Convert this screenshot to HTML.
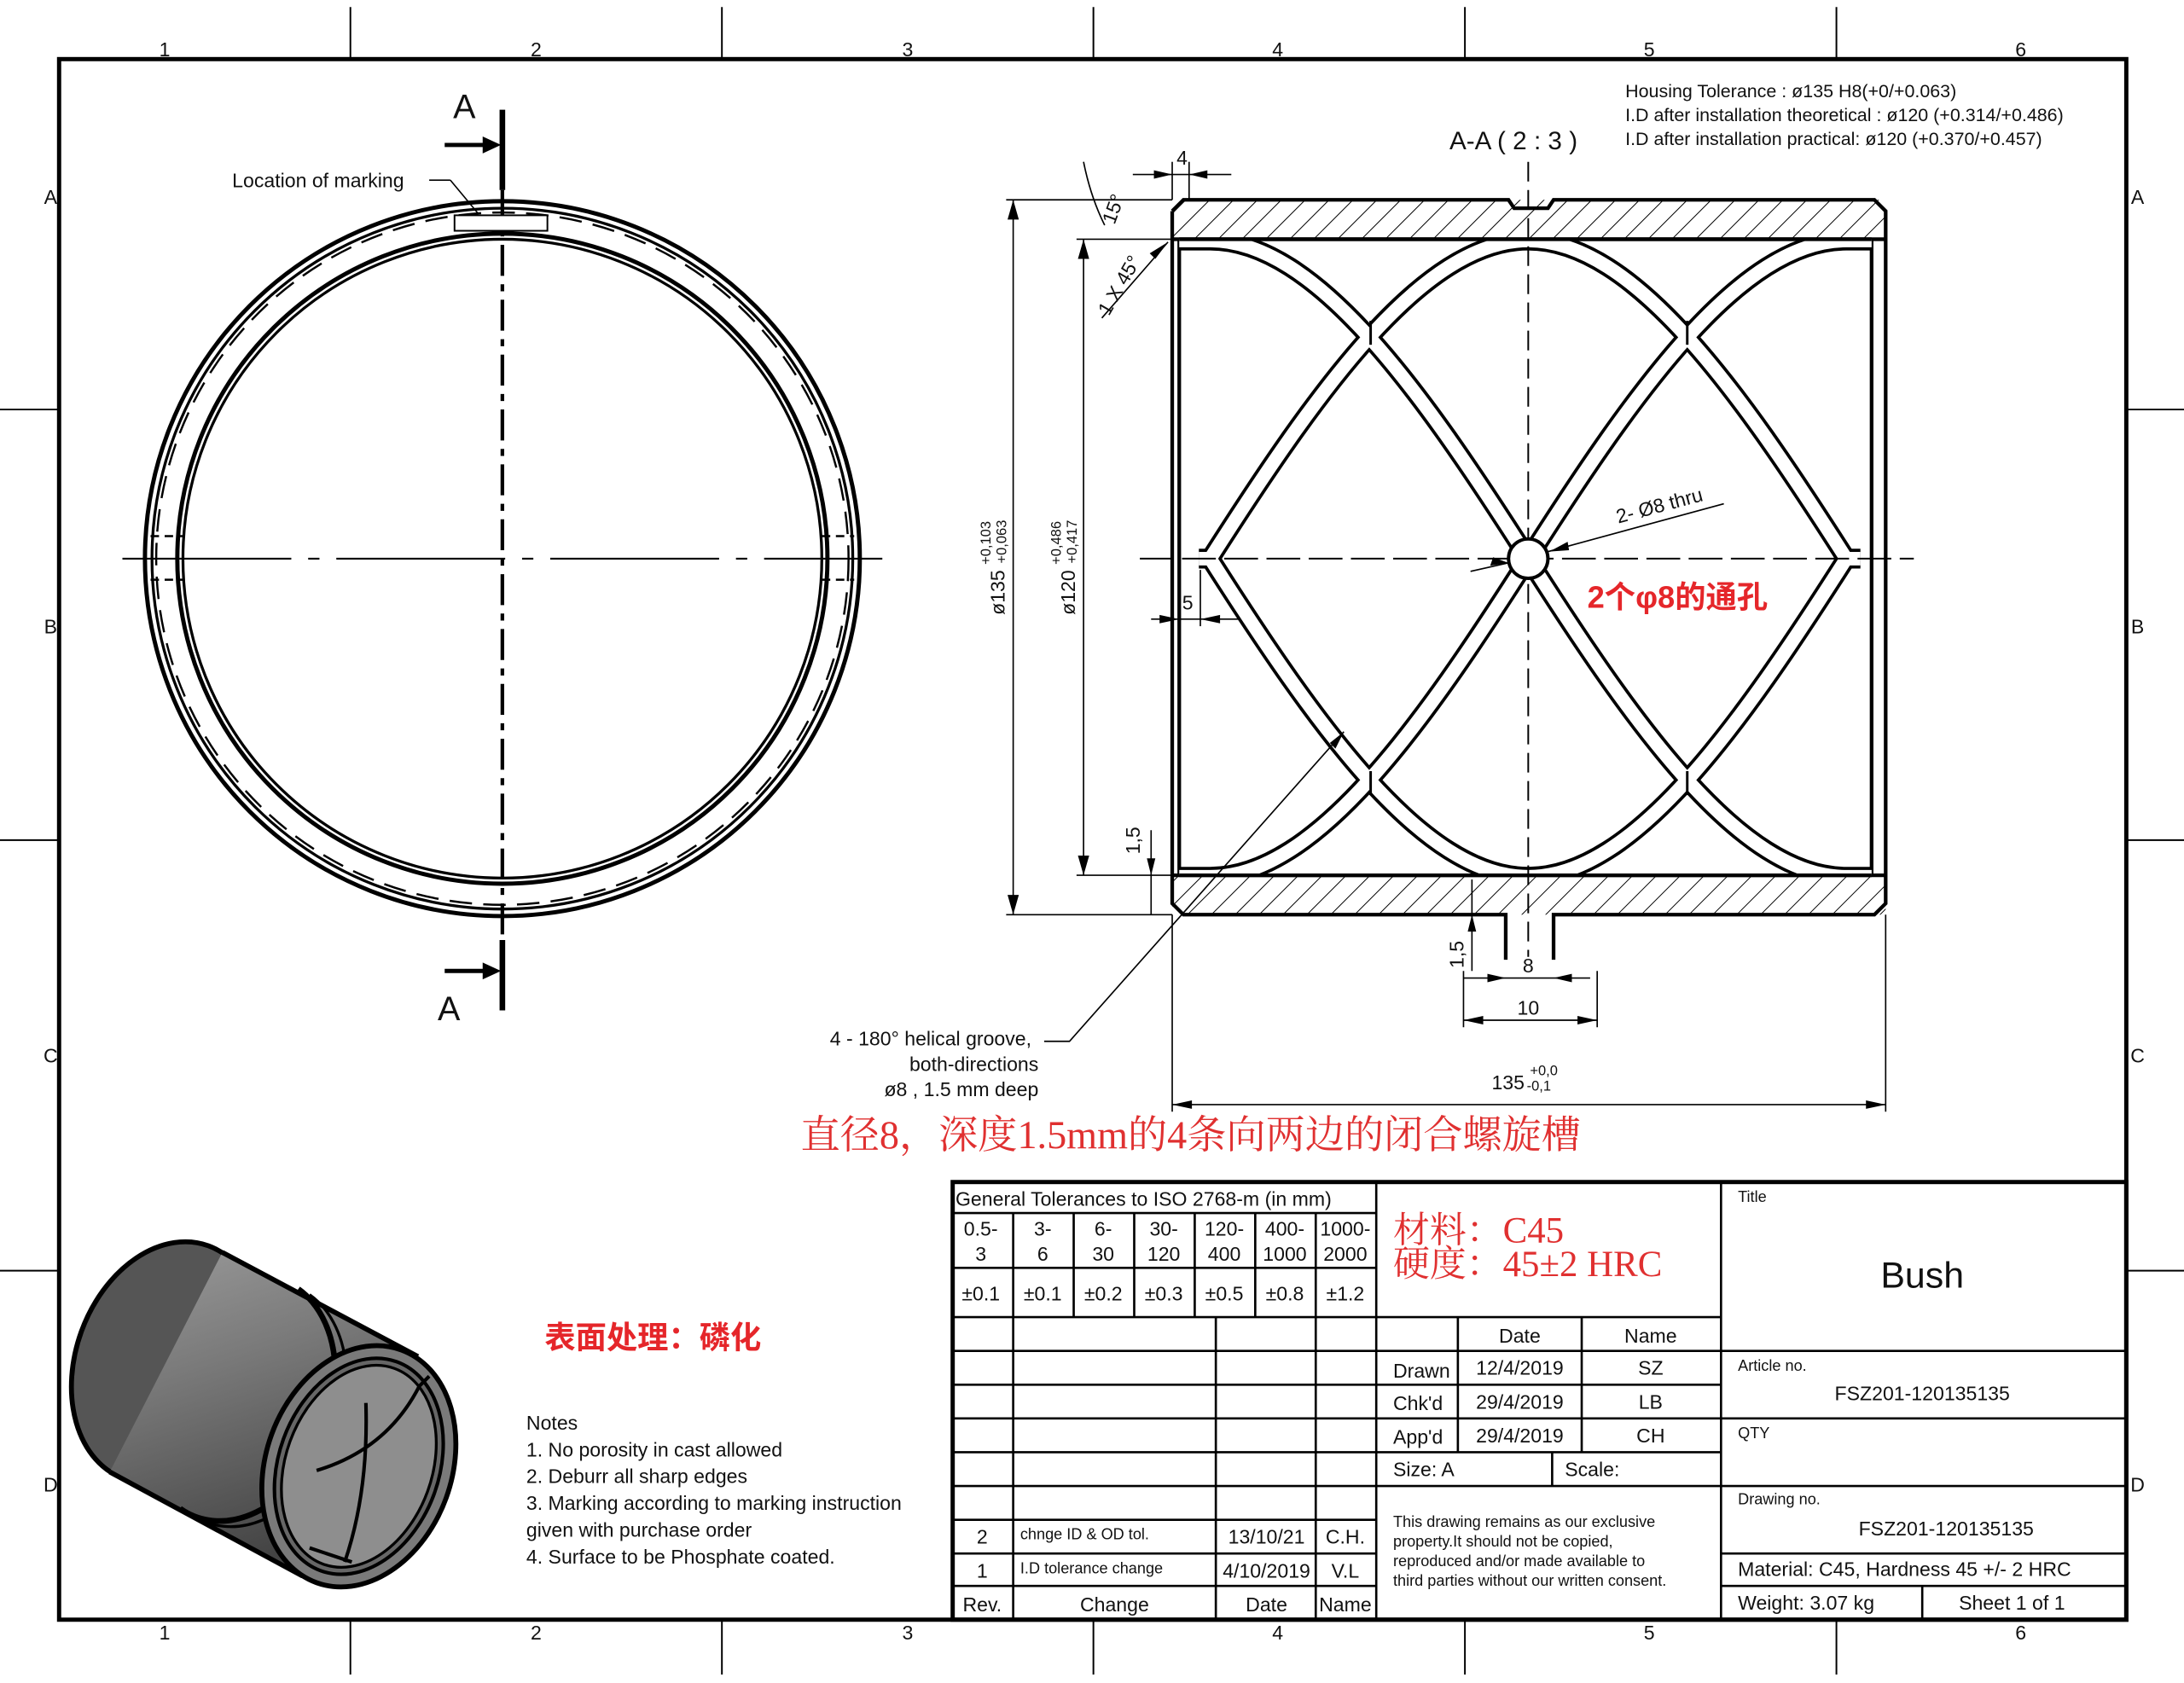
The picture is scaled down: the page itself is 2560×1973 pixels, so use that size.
<!DOCTYPE html>
<html><head><meta charset="utf-8"><style>
html,body{margin:0;padding:0;background:#fff}
svg{display:block}
text{font-family:"Liberation Sans","Noto Sans CJK SC",sans-serif;fill:#111}
.s{font-family:"Liberation Serif","Noto Serif CJK SC",serif;fill:#e03030}
.r{fill:#e5262a}
</style></head><body>
<svg width="2560" height="1973" viewBox="0 0 1552 1196" preserveAspectRatio="none" xmlns="http://www.w3.org/2000/svg">
<defs>
<pattern id="h" width="12" height="12" patternUnits="userSpaceOnUse" patternTransform="rotate(45)"><line x1="0" y1="0" x2="0" y2="12" stroke="#000" stroke-width="1.2"/></pattern>
<clipPath id="bore"><rect x="838" y="170" width="492" height="452"/></clipPath>
<linearGradient id="g" x1="0" y1="0" x2="0.3" y2="1"><stop offset="0" stop-color="#9a9a9a"/><stop offset="0.4" stop-color="#7a7a7a"/><stop offset="1" stop-color="#444"/></linearGradient>
</defs>
<rect width="1552" height="1196" fill="#fff"/>
<rect x="42" y="42" width="1469" height="1109" fill="none" stroke="#000" stroke-width="3"/>
<g stroke="#000" stroke-width="1.2">
<line x1="249" y1="5" x2="249" y2="42"/><line x1="513" y1="5" x2="513" y2="42"/><line x1="777" y1="5" x2="777" y2="42"/><line x1="1041" y1="5" x2="1041" y2="42"/><line x1="1305" y1="5" x2="1305" y2="42"/>
<line x1="249" y1="1151" x2="249" y2="1190"/><line x1="513" y1="1151" x2="513" y2="1190"/><line x1="777" y1="1151" x2="777" y2="1190"/><line x1="1041" y1="1151" x2="1041" y2="1190"/><line x1="1305" y1="1151" x2="1305" y2="1190"/>
<line x1="0" y1="291" x2="42" y2="291"/><line x1="0" y1="597" x2="42" y2="597"/><line x1="0" y1="903" x2="42" y2="903"/>
<line x1="1511" y1="291" x2="1552" y2="291"/><line x1="1511" y1="597" x2="1552" y2="597"/><line x1="1511" y1="903" x2="1552" y2="903"/>
</g>
<g font-size="14" text-anchor="middle">
<text x="117" y="40">1</text><text x="381" y="40">2</text><text x="645" y="40">3</text><text x="908" y="40">4</text><text x="1172" y="40">5</text><text x="1436" y="40">6</text>
<text x="117" y="1165">1</text><text x="381" y="1165">2</text><text x="645" y="1165">3</text><text x="908" y="1165">4</text><text x="1172" y="1165">5</text><text x="1436" y="1165">6</text>
<text x="36" y="145">A</text><text x="36" y="450">B</text><text x="36" y="755">C</text><text x="36" y="1060">D</text>
<text x="1519" y="145">A</text><text x="1519" y="450">B</text><text x="1519" y="755">C</text><text x="1519" y="1060">D</text>
</g>
<g fill="none" stroke="#000">
<circle cx="357" cy="397" r="254" stroke-width="3"/>
<circle cx="357" cy="397" r="249" stroke-width="2"/>
<circle cx="357" cy="397" r="246" stroke-width="1.5" stroke-dasharray="16,8"/>
<circle cx="357" cy="397" r="231" stroke-width="3"/>
<circle cx="357" cy="397" r="227" stroke-width="2"/>
<line x1="87" y1="397" x2="627" y2="397" stroke-width="1.3" stroke-dasharray="120,12,8,12"/>
<line x1="357" y1="135" x2="357" y2="668" stroke-width="2.6" stroke-dasharray="22,6,5,6"/>
<line x1="357" y1="78" x2="357" y2="135" stroke-width="4"/>
<line x1="357" y1="668" x2="357" y2="718" stroke-width="4"/>
<path d="M107 381H130M107 412H130M584 381H607M584 412H607" stroke-width="1.5" stroke-dasharray="6,4"/>
<rect x="323" y="153" width="66" height="11" stroke-width="1.2" fill="#fff"/>
<line x1="305" y1="128" x2="320" y2="128" stroke-width="1"/><line x1="320" y1="128" x2="340" y2="152" stroke-width="1"/>
<line x1="316" y1="103" x2="345" y2="103" stroke-width="3"/>
<line x1="316" y1="690" x2="345" y2="690" stroke-width="3"/>
</g>
<path d="M343 97L356 103L343 109Z M343 684L356 690L343 696Z" fill="#000"/>
<text x="322" y="84" font-size="24">A</text>
<text x="311" y="725" font-size="24">A</text>
<text x="165" y="133" font-size="14">Location of marking</text>
<rect x="833" y="142" width="507" height="28" fill="url(#h)"/>
<rect x="833" y="622" width="507" height="28" fill="url(#h)"/>
<g fill="none" stroke="#000" stroke-width="2.6">
<path d="M833 150L841 142H1072L1076 148H1100L1104 142H1332L1340 150V642L1332 650H1104V682"/>
<path d="M1070 682V650H841L833 642V150"/>
<line x1="833" y1="170" x2="1340" y2="170"/>
<line x1="833" y1="622" x2="1340" y2="622"/>
<line x1="838" y1="170" x2="838" y2="622"/>
<line x1="1330" y1="170" x2="1330" y2="622"/>
</g>
<g clip-path="url(#bore)" fill="none">
<g stroke="#000" stroke-width="14">
<path d="M852 397L860 397C935.3 278.7 1010.7 171 1086 171C1161.3 171 1236.7 278.7 1312 397L1322 397"/>
<path d="M852 397L860 397C935.3 515.3 1010.7 623 1086 623C1161.3 623 1236.7 515.3 1312 397L1322 397"/>
<path d="M820 171H860C935.3 171 1010.7 278.7 1086 397C1161.3 515.3 1236.7 623 1312 623H1350"/>
<path d="M820 623H860C935.3 623 1010.7 515.3 1086 397C1161.3 278.7 1236.7 171 1312 171H1350"/>
</g>
<g stroke="#fff" stroke-width="9.5">
<path d="M852 397L860 397C935.3 278.7 1010.7 171 1086 171C1161.3 171 1236.7 278.7 1312 397L1322 397"/>
<path d="M852 397L860 397C935.3 515.3 1010.7 623 1086 623C1161.3 623 1236.7 515.3 1312 397L1322 397"/>
<path d="M820 171H860C935.3 171 1010.7 278.7 1086 397C1161.3 515.3 1236.7 623 1312 623H1350"/>
<path d="M820 623H860C935.3 623 1010.7 515.3 1086 397C1161.3 278.7 1236.7 171 1312 171H1350"/>
</g>
<g stroke="#000" stroke-width="1.8">
<line x1="974" y1="228" x2="974" y2="245"/><line x1="1199" y1="228" x2="1199" y2="245"/>
<line x1="974" y1="548" x2="974" y2="565"/><line x1="1199" y1="548" x2="1199" y2="565"/>
</g>
</g>
<line x1="838" y1="170" x2="1330" y2="170" stroke="#000" stroke-width="2.6"/>
<line x1="838" y1="622" x2="1330" y2="622" stroke="#000" stroke-width="2.6"/>
<g stroke="#000" fill="none" stroke-width="1.2">
<line x1="1086" y1="115" x2="1086" y2="680" stroke-dasharray="14,6"/>
<line x1="810" y1="397" x2="1360" y2="397" stroke-dasharray="24,6"/>
</g>
<circle cx="1086" cy="397" r="14" fill="#fff" stroke="#000" stroke-width="2.4"/>
<g stroke="#000" stroke-width="1" fill="none">
<line x1="715" y1="142" x2="833" y2="142"/><line x1="715" y1="650" x2="833" y2="650"/>
<line x1="720" y1="142" x2="720" y2="650"/>
<line x1="765" y1="170" x2="833" y2="170"/><line x1="765" y1="622" x2="833" y2="622"/>
<line x1="770" y1="170" x2="770" y2="622"/>
<line x1="833" y1="115" x2="833" y2="142"/><line x1="845" y1="115" x2="845" y2="142"/>
<line x1="805" y1="124" x2="875" y2="124"/>
<line x1="783" y1="226" x2="830" y2="172"/>
<path d="M770 115Q775 140 785 160"/>
<line x1="818" y1="440" x2="880" y2="440"/><line x1="853" y1="405" x2="853" y2="445"/>
<line x1="818" y1="590" x2="818" y2="650"/>
<line x1="1046" y1="625" x2="1046" y2="690"/>
<line x1="1040" y1="695" x2="1130" y2="695"/>
<line x1="1040" y1="725" x2="1135" y2="725"/><line x1="1040" y1="690" x2="1040" y2="730"/><line x1="1135" y1="690" x2="1135" y2="730"/>
<line x1="833" y1="650" x2="833" y2="790"/><line x1="1340" y1="650" x2="1340" y2="790"/>
<line x1="833" y1="785" x2="1340" y2="785"/>
<line x1="1100" y1="392" x2="1225" y2="358"/>
<line x1="1045" y1="406" x2="1072" y2="400"/>
<path d="M742 740H760L955 520"/>
</g>
<g fill="#000">
<path d="M720 142l-4 14h8z M720 650l-4 -14h8z M770 170l-4 14h8z M770 622l-4 -14h8z"/>
<path d="M833 124l-13 -3v6z M845 124l13 -3v6z M838 440l-14 -3v6z M853 440l14 -3v6z"/>
<path d="M833 785l14 -3v6z M1340 785l-14 -3v6z M1070 695l-13 -3v6z M1104 695l13 -3v6z"/>
<path d="M1040 725l14 -3v6z M1135 725l-14 -3v6z M1101 392l13 -7l1 6z M1072 400l-13 2l2 -6z"/>
<path d="M830 172l-9 12l-4 -4z M955 520l-6 12l-4 -4z M818 622l-3 -12h6z M1046 650l-3 12h6z"/>
</g>
<text x="840" y="117" font-size="14" text-anchor="middle">4</text>
<text x="844" y="433" font-size="14" text-anchor="middle">5</text>
<text x="1086" y="691" font-size="14" text-anchor="middle">8</text>
<text x="1086" y="721" font-size="14" text-anchor="middle">10</text>
<text transform="translate(792,160) rotate(-70)" font-size="14">15°</text>
<text transform="translate(788,225) rotate(-60)" font-size="14">1 X 45°</text>
<text transform="translate(810,607) rotate(-90)" font-size="14">1,5</text>
<text transform="translate(1040,688) rotate(-90)" font-size="14">1,5</text>
<text transform="translate(714,437) rotate(-90)" font-size="14">ø135 <tspan font-size="10" dy="-10">+0,103</tspan><tspan font-size="10" dx="-30" dy="11">+0,063</tspan></text>
<text transform="translate(764,437) rotate(-90)" font-size="14">ø120 <tspan font-size="10" dy="-10">+0,486</tspan><tspan font-size="10" dx="-30" dy="11">+0,417</tspan></text>
<text x="1060" y="774" font-size="14">135 <tspan font-size="10" dy="-10">+0,0</tspan><tspan font-size="10" dx="-22" dy="11">-0,1</tspan></text>
<text transform="translate(1150,372) rotate(-15)" font-size="14">2- Ø8 thru</text>
<text x="1128" y="432" font-size="22" font-weight="bold" class="r">2个φ8的通孔</text>
<g font-size="14" text-anchor="end">
<text x="733" y="743">4 - 180° helical groove,</text>
<text x="738" y="761">both-directions</text>
<text x="738" y="779">ø8 , 1.5 mm deep</text>
</g>
<text x="569" y="816" font-size="28" class="s">直径8，深度1.5mm的4条向两边的闭合螺旋槽</text>
<text x="1030" y="106" font-size="18">A-A ( 2 : 3 )</text>
<g font-size="13">
<text x="1155" y="69">Housing Tolerance : ø135 H8(+0/+0.063)</text>
<text x="1155" y="86">I.D after installation theoretical : ø120 (+0.314/+0.486)</text>
<text x="1155" y="103">I.D after installation practical: ø120 (+0.370/+0.457)</text>
</g>
<g stroke="#000" stroke-width="3.5">
<ellipse cx="118" cy="968" rx="64" ry="88" transform="rotate(20 118 968)" fill="#555"/>
<path d="M158 890L295 964L215 1120L78 1046Z" fill="url(#g)" stroke="none"/>
<line x1="158" y1="890" x2="297" y2="964"/>
<line x1="78" y1="1046" x2="215" y2="1120"/>
<path d="M212 916A64 88 20 0 1 128 1072" fill="none" stroke-width="4"/>
<path d="M220 920A64 88 20 0 1 136 1076" fill="none" stroke-width="2"/>
<ellipse cx="255" cy="1042" rx="66" ry="88" transform="rotate(20 255 1042)" fill="#7a7a7a"/>
<ellipse cx="255" cy="1042" rx="57" ry="79" transform="rotate(20 255 1042)" fill="#666" stroke-width="2.5"/>
<ellipse cx="255" cy="1042" rx="52" ry="74" transform="rotate(20 255 1042)" fill="#8e8e8e" stroke-width="2"/>
<path d="M260 997Q262 1060 245 1110M225 1045Q275 1030 298 985L305 978M220 1100L250 1110" fill="none" stroke-width="2.5"/>
</g>
<text x="387" y="958" font-size="22" font-weight="bold" class="r">表面处理：磷化</text>
<g font-size="14">
<text x="374" y="1016">Notes</text>
<text x="374" y="1035">1. No porosity in cast allowed</text>
<text x="374" y="1054">2. Deburr all sharp edges</text>
<text x="374" y="1073">3. Marking according to marking instruction</text>
<text x="374" y="1092">given with purchase order</text>
<text x="374" y="1111">4. Surface to be Phosphate coated.</text>
</g>
<g stroke="#000" fill="none">
<rect x="677" y="840" width="834" height="311" stroke-width="3"/>
<g stroke-width="1.6">
<line x1="978" y1="840" x2="978" y2="1151"/><line x1="1223" y1="840" x2="1223" y2="1151"/>
<line x1="677" y1="862" x2="978" y2="862"/><line x1="677" y1="901" x2="978" y2="901"/><line x1="677" y1="936" x2="1223" y2="936"/>
<line x1="720" y1="862" x2="720" y2="936"/><line x1="763" y1="862" x2="763" y2="936"/><line x1="806" y1="862" x2="806" y2="936"/><line x1="849" y1="862" x2="849" y2="936"/><line x1="892" y1="862" x2="892" y2="936"/><line x1="935" y1="862" x2="935" y2="936"/>
<path d="M677 960H1223M677 984H1223M677 1008H1223M677 1032H1223M677 1056H1223M677 1080H978M677 1104H978M677 1127H978"/>
<line x1="720" y1="936" x2="720" y2="1151"/><line x1="864" y1="936" x2="864" y2="1151"/><line x1="935" y1="936" x2="935" y2="1151"/>
<line x1="1036" y1="936" x2="1036" y2="1032"/><line x1="1124" y1="936" x2="1124" y2="1032"/><line x1="1103" y1="1032" x2="1103" y2="1056"/>
<path d="M1223 960H1511M1223 1008H1511M1223 1056H1511M1223 1104H1511M1223 1127H1511"/>
<line x1="1366" y1="1127" x2="1366" y2="1151"/>
</g></g>
<g font-size="14">
<text x="679" y="857">General Tolerances to ISO 2768-m (in mm)</text>
<g text-anchor="middle">
<text x="697" y="878">0.5-</text><text x="697" y="896">3</text>
<text x="741" y="878">3-</text><text x="741" y="896">6</text>
<text x="784" y="878">6-</text><text x="784" y="896">30</text>
<text x="827" y="878">30-</text><text x="827" y="896">120</text>
<text x="870" y="878">120-</text><text x="870" y="896">400</text>
<text x="913" y="878">400-</text><text x="913" y="896">1000</text>
<text x="956" y="878">1000-</text><text x="956" y="896">2000</text>
<text x="697" y="924">±0.1</text><text x="741" y="924">±0.1</text><text x="784" y="924">±0.2</text><text x="827" y="924">±0.3</text><text x="870" y="924">±0.5</text><text x="913" y="924">±0.8</text><text x="956" y="924">±1.2</text>
<text x="698" y="1097">2</text><text x="900" y="1097">13/10/21</text><text x="956" y="1097">C.H.</text>
<text x="698" y="1121">1</text><text x="900" y="1121">4/10/2019</text><text x="956" y="1121">V.L</text>
<text x="698" y="1145">Rev.</text><text x="792" y="1145">Change</text><text x="900" y="1145">Date</text><text x="956" y="1145">Name</text>
<text x="1080" y="954">Date</text><text x="1173" y="954">Name</text>
<text x="1080" y="977">12/4/2019</text><text x="1173" y="977">SZ</text>
<text x="1080" y="1001">29/4/2019</text><text x="1173" y="1001">LB</text>
<text x="1080" y="1025">29/4/2019</text><text x="1173" y="1025">CH</text>
<text x="1366" y="995">FSZ201-120135135</text>
<text x="1383" y="1091">FSZ201-120135135</text>
</g>
<text x="990" y="979">Drawn</text><text x="990" y="1002">Chk'd</text><text x="990" y="1026">App'd</text>
<text x="990" y="1049">Size: A</text><text x="1112" y="1049">Scale:</text>
<text x="1235" y="1120">Material: C45, Hardness 45 +/- 2 HRC</text>
<text x="1235" y="1144">Weight: 3.07 kg</text><text x="1392" y="1144">Sheet 1  of 1</text>
</g>
<g font-size="11">
<text x="725" y="1094">chnge ID &amp; OD tol.</text>
<text x="725" y="1118">I.D tolerance change</text>
<text x="990" y="1085">This drawing remains as our exclusive</text>
<text x="990" y="1099">property.It should not be copied,</text>
<text x="990" y="1113">reproduced and/or made available to</text>
<text x="990" y="1127">third parties without our written consent.</text>
<text x="1235" y="854">Title</text><text x="1235" y="974">Article no.</text><text x="1235" y="1022">QTY</text><text x="1235" y="1069">Drawing no.</text>
</g>
<text x="1366" y="915" font-size="26" text-anchor="middle">Bush</text>
<text x="990" y="883" font-size="26" class="s">材料：C45</text>
<text x="990" y="907" font-size="26" class="s">硬度：45±2 HRC</text>
</svg>
</body></html>
